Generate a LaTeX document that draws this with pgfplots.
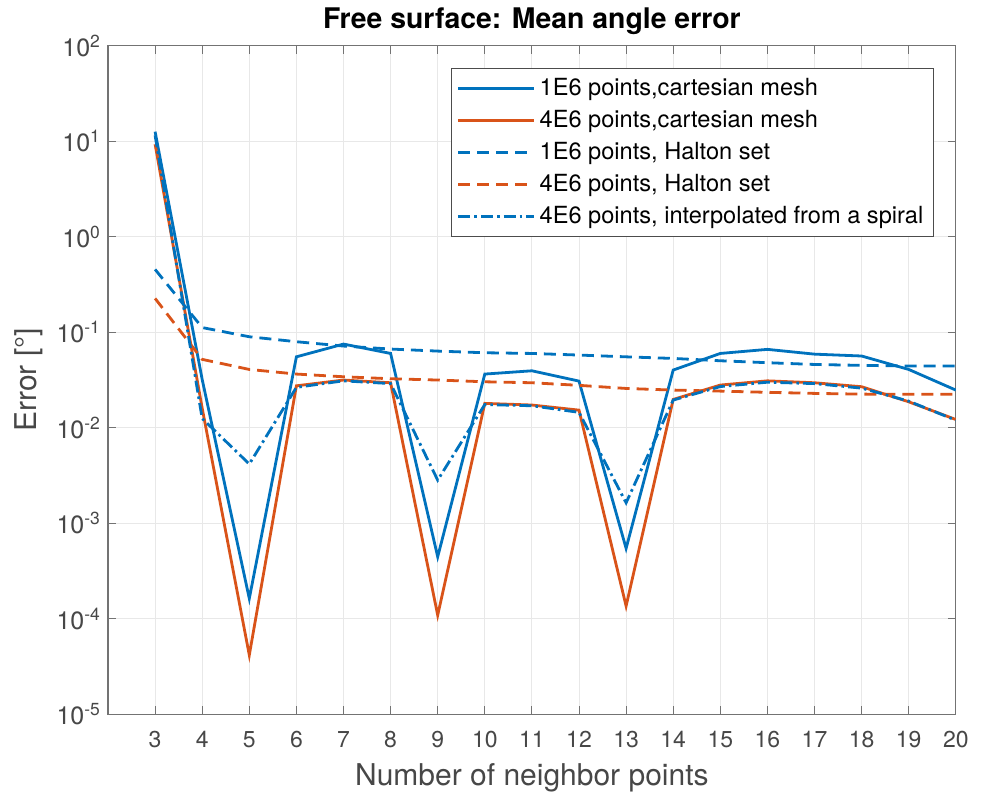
\documentclass[border=0pt]{standalone}
\usepackage{fontspec}
\setmainfont{TeX Gyre Heros}
\usepackage{pgfplots}
\pgfplotsset{compat=1.18}
\definecolor{mblue}{rgb}{0,0.447,0.741}
\definecolor{morange}{rgb}{0.85,0.325,0.098}
\definecolor{axgray}{rgb}{0.45,0.45,0.45}
\definecolor{lblgray}{rgb}{0.28,0.28,0.28}
\begin{document}
\begin{tikzpicture}
\path[use as bounding box] (-54pt,-42.35pt) rectangle (438pt,357.15pt);
\begin{axis}[
  at={(0,0)}, anchor=south west,
  scale only axis, width=423.9pt, height=334.3pt,
  ymode=log, log basis y=10,
  xmin=2, xmax=20, ymin=1e-5, ymax=1e2,
  xtick={3,4,...,20},
  ytick={1e-5,1e-4,1e-3,1e-2,1e-1,1e0,1e1,1e2},
  yticklabels={10\textsuperscript{-5},10\textsuperscript{-4},10\textsuperscript{-3},10\textsuperscript{-2},10\textsuperscript{-1},10\textsuperscript{0},10\textsuperscript{1},10\textsuperscript{2}},
  /pgf/number format/assume math mode=true,
  tick label style={font=\fontsize{11.5}{13}\selectfont, color=lblgray},
  yticklabel style={font=\fontsize{12.5}{14}\selectfont},
  xticklabel style={yshift=-5pt},
  label style={font=\fontsize{15}{18}\selectfont, color=lblgray},
  xlabel style={yshift=-1pt},
  xlabel={Number of neighbor points},
  ylabel={Error [°]},
  title={\bfseries Free surface: Mean angle error},
  title style={font=\fontsize{14.2}{17}\selectfont, yshift=-4pt},
  axis line style={axgray, line width=0.6pt},
  tick style={axgray, line width=0.5pt},
  major tick length=4pt, minor tick length=2.2pt,
  tick align=inside,
  grid=major,
  major grid style={black!9, line width=0.5pt},
  legend style={at={(0.974,0.967)}, anchor=north east, draw=black!70, line width=0.5pt,
    font=\fontsize{11.8}{14}\selectfont, text=black, row sep=1.9pt, inner sep=3pt,
    nodes={inner sep=2pt}},
  legend cell align=left,
  legend image code/.code={\draw[#1, line width=1.2pt] (0pt,0pt) -- (38pt,0pt);},
]
\addplot[mblue, solid, line width=1.4pt] coordinates {
(3,12.6) (4,0.032) (5,1.63e-4) (6,0.0553) (7,0.0752) (8,0.060) (9,4.46e-4) (10,0.0365) (11,0.0395) (12,0.0308) (13,5.46e-4) (14,0.0402) (15,0.060) (16,0.0662) (17,0.059) (18,0.0564) (19,0.0408) (20,0.0248)};
\addlegendentry{1E6 points,cartesian mesh}
\addplot[morange, solid, line width=1.4pt] coordinates {
(3,9.3) (4,0.016) (5,4.17e-5) (6,0.0275) (7,0.0316) (8,0.0296) (9,1.09e-4) (10,0.018) (11,0.0173) (12,0.0153) (13,1.36e-4) (14,0.0198) (15,0.028) (16,0.031) (17,0.0296) (18,0.0269) (19,0.0187) (20,0.0122)};
\addlegendentry{4E6 points,cartesian mesh}
\addplot[mblue, dash pattern=on 6pt off 3.5pt, line width=1.4pt] coordinates {
(3,0.455) (4,0.112) (5,0.0897) (6,0.0796) (7,0.0717) (8,0.0667) (9,0.0635) (10,0.061) (11,0.060) (12,0.0577) (13,0.0553) (14,0.0532) (15,0.0503) (16,0.048) (17,0.046) (18,0.045) (19,0.0443) (20,0.0443)};
\addlegendentry{1E6 points, Halton set}
\addplot[morange, dash pattern=on 6pt off 3.5pt, line width=1.4pt] coordinates {
(3,0.226) (4,0.052) (5,0.0408) (6,0.0365) (7,0.0342) (8,0.0326) (9,0.0316) (10,0.0303) (11,0.0296) (12,0.0278) (13,0.0258) (14,0.0248) (15,0.0242) (16,0.0235) (17,0.0229) (18,0.0225) (19,0.0224) (20,0.0224)};
\addlegendentry{4E6 points, Halton set}
\addplot[mblue, dash pattern=on 6pt off 2pt on 1.3pt off 2pt, line width=1.4pt] coordinates {
(3,11.5) (4,0.0125) (5,0.00417) (6,0.0265) (7,0.031) (8,0.029) (9,0.00283) (10,0.0175) (11,0.017) (12,0.0145) (13,0.00164) (14,0.0195) (15,0.027) (16,0.030) (17,0.029) (18,0.026) (19,0.019) (20,0.012)};
\addlegendentry{4E6 points, interpolated from a spiral}
\end{axis}
\end{tikzpicture}
\end{document}
